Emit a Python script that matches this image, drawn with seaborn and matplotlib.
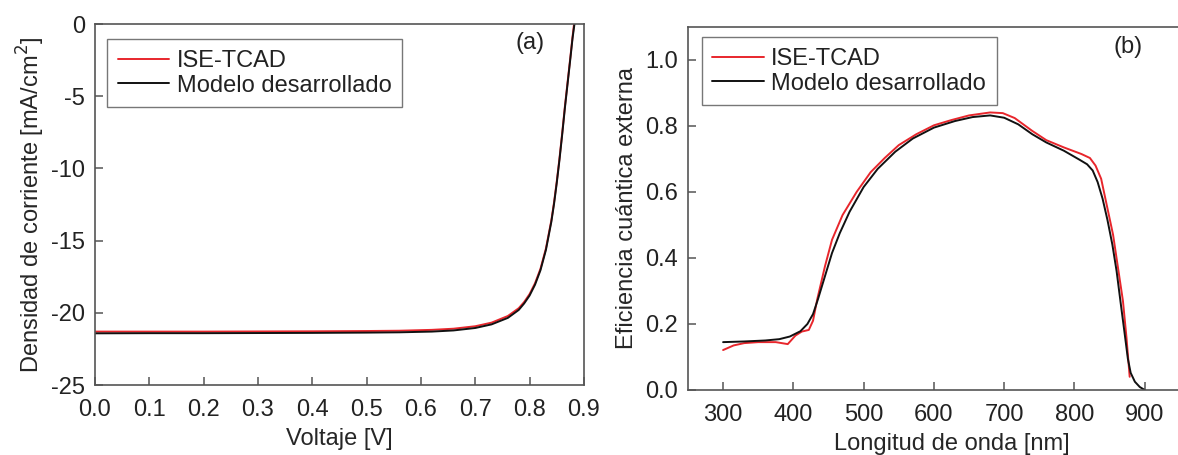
import matplotlib
matplotlib.use("Agg")
import matplotlib.pyplot as plt
import seaborn as sns
import pandas as pd

# J-V characteristics (voltage in V, current density in mA/cm^2)
v_tcad = [0.0, 0.1, 0.2, 0.3, 0.4, 0.5, 0.56, 0.62, 0.66, 0.70, 0.73, 0.76,
          0.78, 0.79, 0.80, 0.81, 0.82, 0.83, 0.84, 0.845, 0.85, 0.855, 0.86,
          0.865, 0.87, 0.875, 0.879, 0.883]
j_tcad = [-21.30, -21.30, -21.30, -21.29, -21.28, -21.26, -21.24, -21.18, -21.10,
          -20.93, -20.68, -20.22, -19.68, -19.25, -18.70, -17.95, -16.95, -15.55,
          -13.60, -12.35, -10.90, -9.30, -7.55, -5.70, -4.00, -2.30, -0.90, 0.40]
v_model = [0.0, 0.1, 0.2, 0.3, 0.4, 0.5, 0.56, 0.62, 0.66, 0.70, 0.73, 0.76,
           0.78, 0.79, 0.80, 0.81, 0.82, 0.83, 0.84, 0.845, 0.85, 0.855, 0.86,
           0.865, 0.87, 0.875, 0.879, 0.884]
j_model = [-21.42, -21.41, -21.41, -21.40, -21.39, -21.37, -21.35, -21.30, -21.22,
           -21.05, -20.80, -20.35, -19.80, -19.35, -18.80, -18.05, -17.05, -15.65,
           -13.70, -12.45, -11.00, -9.40, -7.65, -5.80, -4.10, -2.40, -1.00, 0.40]

# External quantum efficiency spectra (wavelength in nm)
wl_tcad = [300, 315, 330, 350, 375, 392, 403, 412, 422, 428, 434, 445, 455, 470,
           490, 510, 530, 550, 575, 600, 625, 650, 680, 698, 715, 740, 760, 785,
           810, 822, 830, 838, 846, 855, 862, 869, 874, 878.6]
eqe_tcad = [0.121, 0.135, 0.142, 0.145, 0.145, 0.139, 0.165, 0.177, 0.182, 0.210,
            0.275, 0.375, 0.455, 0.530, 0.600, 0.660, 0.703, 0.742, 0.775, 0.802,
            0.818, 0.832, 0.841, 0.839, 0.824, 0.785, 0.757, 0.735, 0.715, 0.703,
            0.680, 0.640, 0.560, 0.470, 0.370, 0.270, 0.160, 0.040]
wl_model = [300, 330, 360, 380, 395, 410, 420, 428, 435, 445, 455, 466, 480, 500,
            520, 545, 570, 600, 630, 655, 680, 700, 720, 740, 760, 785, 807, 818,
            826, 833, 840, 847, 854, 860, 866, 871.5, 876, 880, 886, 893, 900]
eqe_model = [0.145, 0.147, 0.150, 0.154, 0.162, 0.178, 0.200, 0.230, 0.275, 0.345,
             0.415, 0.475, 0.540, 0.615, 0.670, 0.722, 0.762, 0.795, 0.815, 0.827,
             0.832, 0.825, 0.805, 0.775, 0.750, 0.725, 0.698, 0.684, 0.665, 0.630,
             0.580, 0.515, 0.440, 0.360, 0.260, 0.170, 0.095, 0.052, 0.025, 0.009,
             0.000]

labels = ["ISE-TCAD", "Modelo desarrollado"]
colors = ["#e8262c", "#111111"]

sns.set_theme(style="ticks")
plt.rcParams["font.family"] = ["Liberation Sans", "DejaVu Sans"]
plt.rcParams["axes.unicode_minus"] = False
spine_col = "#555555"
fs = 17

fig = plt.figure(figsize=(11.78, 4.55), dpi=100)
ax_a = fig.add_axes([0.0806, 0.1538, 0.4151, 0.7934])
ax_b = fig.add_axes([0.5840, 0.1429, 0.4474, 0.7978])

df_a = pd.concat([
    pd.DataFrame({"V": v_tcad, "J": j_tcad, "serie": labels[0]}),
    pd.DataFrame({"V": v_model, "J": j_model, "serie": labels[1]}),
])
df_b = pd.concat([
    pd.DataFrame({"wl": wl_tcad, "eqe": eqe_tcad, "serie": labels[0]}),
    pd.DataFrame({"wl": wl_model, "eqe": eqe_model, "serie": labels[1]}),
])

pal = dict(zip(labels, colors))
sns.lineplot(data=df_a, x="V", y="J", hue="serie", palette=pal, sort=False,
             estimator=None, lw=1.4, ax=ax_a, hue_order=labels)
sns.lineplot(data=df_b, x="wl", y="eqe", hue="serie", palette=pal, sort=False,
             estimator=None, lw=1.4, ax=ax_b, hue_order=labels)

ax_a.set_xlim(0.0, 0.9)
ax_a.set_ylim(-25, 0)
ax_a.set_xticks([0.0, 0.1, 0.2, 0.3, 0.4, 0.5, 0.6, 0.7, 0.8, 0.9])
ax_a.set_xticklabels(["0.0", "0.1", "0.2", "0.3", "0.4", "0.5", "0.6", "0.7", "0.8", "0.9"])
ax_a.set_yticks([-25, -20, -15, -10, -5, 0])
ax_a.set_xlabel("Voltaje [V]", fontsize=fs, labelpad=5)
ax_a.set_ylabel("Densidad de corriente [mA/cm$^2$]", fontsize=fs, labelpad=3)

ax_b.set_xlim(250, 1000)
ax_b.set_ylim(0, 1.1)
ax_b.set_xticks([300, 400, 500, 600, 700, 800, 900])
ax_b.set_yticks([0.0, 0.2, 0.4, 0.6, 0.8, 1.0])
ax_b.set_yticklabels(["0.0", "0.2", "0.4", "0.6", "0.8", "1.0"])
ax_b.set_xlabel("Longitud de onda [nm]", fontsize=fs, labelpad=5)
ax_b.set_ylabel("Eficiencia cuántica externa", fontsize=fs, labelpad=5)

for ax, tag, pos, leg_anchor in [
    (ax_a, "(a)", (0.89, 0.947), (0.0245, 0.958)),
    (ax_b, "(b)", (0.835, 0.946), (0.026, 0.972)),
]:
    for s in ax.spines.values():
        s.set_color(spine_col)
        s.set_linewidth(1.2)
    ax.tick_params(direction="in", length=6, width=1.1, color=spine_col,
                   labelsize=fs, labelcolor="#222222")
    ax.tick_params(axis="x", pad=10)
    ax.tick_params(axis="y", pad=7)
    ax.tick_params(top=False, right=False)
    ax.text(pos[0], pos[1], tag, transform=ax.transAxes, ha="center", va="center",
            fontsize=fs, color="#222222")
    leg = ax.legend(loc="upper left", bbox_to_anchor=leg_anchor, borderaxespad=0,
                    fontsize=fs, frameon=True, fancybox=False, framealpha=1,
                    edgecolor="#777777", handlelength=2.2, handletextpad=0.3,
                    labelspacing=0.12, borderpad=0.45, title=None)
    leg.get_frame().set_linewidth(1.0)
    for t in leg.get_texts():
        t.set_color("#222222")

fig.savefig("out.png", dpi=100)
